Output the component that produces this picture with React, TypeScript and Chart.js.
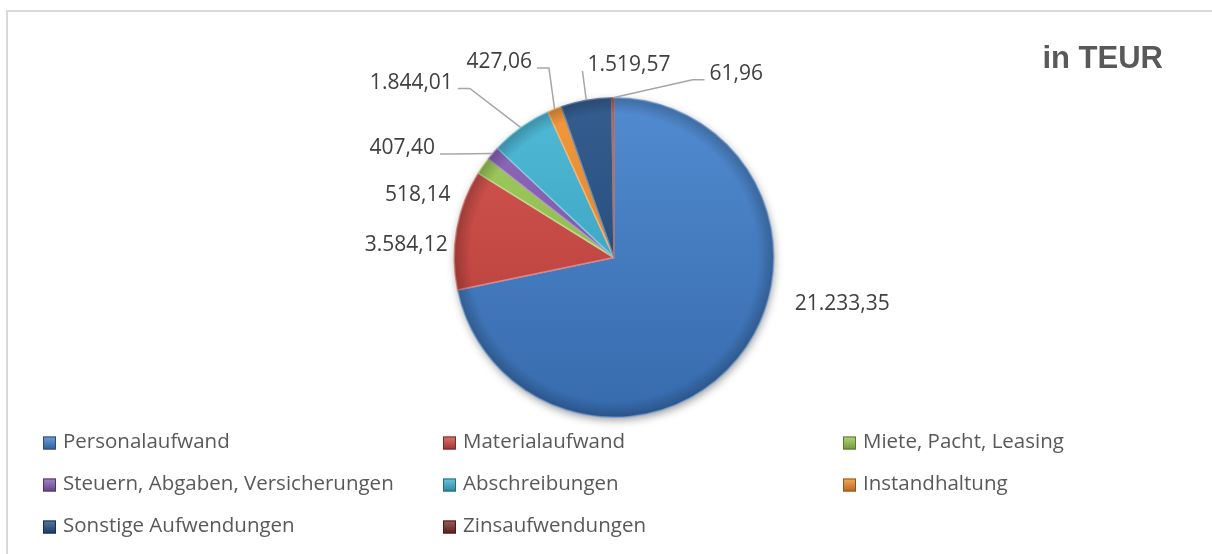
import React, { useEffect, useRef } from "react";
import { Chart, registerables } from "chart.js";

Chart.register(...registerables);

// ---------- data ----------
const categories = [
  "Personalaufwand",
  "Materialaufwand",
  "Miete, Pacht, Leasing",
  "Steuern, Abgaben, Versicherungen",
  "Abschreibungen",
  "Instandhaltung",
  "Sonstige Aufwendungen",
  "Zinsaufwendungen",
];
const values = [21233.35, 3584.12, 518.14, 407.4, 1844.01, 427.06, 1519.57, 61.96];
const chartTitle = "in TEUR";

// ---------- styles ----------
const sliceColors = [
  "#3F7ECB",
  "#D0443F",
  "#98C84E",
  "#8459B4",
  "#3BB2D2",
  "#F28C28",
  "#1F4C82",
  "#7A2826",
];
// label placement: angular shift (deg) from slice middle, distance in radii
const labelAngleShift = [-28.0, -6.2, -17.0, -13.0, -13.3, -8.4, 14.4, 33.8];
const labelDistance = [1.456, 1.303, 1.292, 1.496, 1.682, 1.427, 1.218, 1.389];
const labelLeader = [false, false, false, true, true, true, true, true];

const LABEL_FONT_SIZE = 21;
const LEGEND_FONT_SIZE = 20.5;
const legendStyle = { left: 43, top: 443, colWidth: 400, rowHeight: 42, cols: 3, box: 13 };

function formatDE(v: number): string {
  const [intPart, dec] = v.toFixed(2).split(".");
  const withDots = intPart.replace(/\B(?=(\d{3})+(?!\d))/g, ".");
  return withDots + "," + dec;
}

function hexToRgb(hex: string) {
  const n = parseInt(hex.slice(1), 16);
  return [(n >> 16) & 255, (n >> 8) & 255, n & 255];
}
function mix(hex: string, target: number, amt: number) {
  const [r, g, b] = hexToRgb(hex);
  const f = (c: number) => Math.round(c + (target - c) * amt);
  return `rgb(${f(r)},${f(g)},${f(b)})`;
}

const framePlugin = {
  id: "frame",
  beforeDraw(chart: any) {
    const ctx = chart.ctx;
    ctx.save();
    ctx.fillStyle = "#ffffff";
    ctx.fillRect(0, 0, chart.width, chart.height);
    ctx.strokeStyle = "#D9D9D9";
    ctx.lineWidth = 2;
    ctx.beginPath();
    ctx.moveTo(chart.width + 2, 11);
    ctx.lineTo(7, 11);
    ctx.lineTo(7, chart.height + 2);
    ctx.stroke();
    ctx.restore();
  },
};

const shadowPlugin = {
  id: "pieShadow",
  beforeDatasetsDraw(chart: any) {
    const arc = chart.getDatasetMeta(0).data[0];
    if (!arc) return;
    const { x, y, outerRadius } = arc.getProps(["x", "y", "outerRadius"], true);
    const ctx = chart.ctx;
    ctx.save();
    ctx.shadowColor = "rgba(0,0,0,0.45)";
    ctx.shadowBlur = 10;
    ctx.shadowOffsetX = 1;
    ctx.shadowOffsetY = 3;
    ctx.fillStyle = "#ffffff";
    ctx.beginPath();
    ctx.arc(x, y, outerRadius - 1, 0, Math.PI * 2);
    ctx.fill();
    ctx.restore();
  },
  afterDatasetsDraw(chart: any) {
    const arc = chart.getDatasetMeta(0).data[0];
    if (!arc) return;
    const { x, y, outerRadius } = arc.getProps(["x", "y", "outerRadius"], true);
    const ctx = chart.ctx;
    ctx.save();
    const g = ctx.createRadialGradient(x, y, outerRadius * 0.9, x, y, outerRadius);
    g.addColorStop(0, "rgba(0,0,0,0)");
    g.addColorStop(1, "rgba(0,0,0,0.22)");
    ctx.fillStyle = g;
    ctx.beginPath();
    ctx.arc(x, y, outerRadius, 0, Math.PI * 2);
    ctx.fill();
    ctx.restore();
  },
};

const labelPlugin = {
  id: "valueLabels",
  afterDatasetsDraw(chart: any) {
    const meta = chart.getDatasetMeta(0);
    const ctx = chart.ctx;
    ctx.save();
    ctx.font = `${LABEL_FONT_SIZE}px "Open Sans"`;
    ctx.textAlign = "center";
    ctx.textBaseline = "alphabetic";
    meta.data.forEach((arc: any, i: number) => {
      const { x, y, startAngle, endAngle, outerRadius } = arc.getProps(
        ["x", "y", "startAngle", "endAngle", "outerRadius"],
        true
      );
      const mid = (startAngle + endAngle) / 2;
      const ang = mid + (labelAngleShift[i] * Math.PI) / 180;
      const d = outerRadius * labelDistance[i];
      const cx = x + Math.cos(ang) * d;
      const cy = y + Math.sin(ang) * d;
      const baseY = cy + LABEL_FONT_SIZE * 0.357;
      const text = formatDE(values[i]);
      const w = ctx.measureText(text).width;
      if (labelLeader[i]) {
        const ax = x + Math.cos(mid) * outerRadius;
        const ay = y + Math.sin(mid) * outerRadius;
        let sx: number, ex: number;
        if (cx < ax) {
          sx = cx + w / 2 + 5;
          ex = sx + Math.max(0, Math.min(12, ax - sx));
        } else {
          sx = cx - w / 2 - 5;
          ex = sx - Math.max(0, Math.min(12, sx - ax));
        }
        ctx.strokeStyle = "#A6A6A6";
        ctx.lineWidth = 1.5;
        ctx.beginPath();
        ctx.moveTo(sx, baseY);
        ctx.lineTo(ex, baseY);
        ctx.lineTo(ax, ay);
        ctx.stroke();
      }
      ctx.fillStyle = "#404040";
      ctx.fillText(text, cx, baseY);
    });
    ctx.restore();
  },
};

const legendTitlePlugin = {
  id: "gridLegend",
  afterDraw(chart: any) {
    const ctx = chart.ctx;
    ctx.save();
    // title
    ctx.font = 'bold 31px "Liberation Sans"';
    ctx.fillStyle = "#595959";
    ctx.textAlign = "right";
    ctx.textBaseline = "alphabetic";
    ctx.fillText(chartTitle, 1163, 68);
    // legend
    const s = legendStyle;
    ctx.font = `${LEGEND_FONT_SIZE}px "Open Sans"`;
    ctx.textAlign = "left";
    ctx.textBaseline = "middle";
    categories.forEach((name, i) => {
      const col = i % s.cols;
      const row = Math.floor(i / s.cols);
      const bx = s.left + col * s.colWidth;
      const yc = s.top + row * s.rowHeight;
      const by = yc - s.box / 2;
      const g = ctx.createLinearGradient(0, by, 0, by + s.box);
      g.addColorStop(0, mix(sliceColors[i], 255, 0.25));
      g.addColorStop(1, mix(sliceColors[i], 0, 0.25));
      ctx.fillStyle = g;
      ctx.fillRect(bx, by, s.box, s.box);
      ctx.strokeStyle = mix(sliceColors[i], 0, 0.4);
      ctx.lineWidth = 1;
      ctx.strokeRect(bx + 0.5, by + 0.5, s.box - 1, s.box - 1);
      ctx.fillStyle = "#595959";
      ctx.fillText(name, bx + 20, yc - 1);
    });
    ctx.restore();
  },
};

export default function App() {
  const canvasRef = useRef<HTMLCanvasElement | null>(null);

  useEffect(() => {
    if (!canvasRef.current) return;
    const chart = new Chart(canvasRef.current, {
      type: "pie",
      data: {
        labels: categories,
        datasets: [
          {
            data: values,
            backgroundColor: (c: any) => {
              const area = c.chart.chartArea;
              if (!area) return sliceColors[c.dataIndex];
              const g = c.chart.ctx.createLinearGradient(0, area.top, 0, area.bottom);
              g.addColorStop(0, mix(sliceColors[c.dataIndex], 255, 0.1));
              g.addColorStop(1, mix(sliceColors[c.dataIndex], 0, 0.15));
              return g;
            },
            borderColor: sliceColors.map((col) => mix(col, 255, 0.35)),
            borderWidth: 1.5,
          },
        ],
      },
      options: {
        responsive: false,
        devicePixelRatio: 1,
        animation: false,
        rotation: 0,
        layout: { padding: { left: 453, right: 437, top: 97, bottom: 136 } },
        plugins: {
          legend: { display: false },
          tooltip: { enabled: false },
          title: { display: false },
        },
      },
      plugins: [framePlugin, shadowPlugin, labelPlugin, legendTitlePlugin],
    });
    return () => chart.destroy();
  }, []);

  return (
    <div style={{ position: "absolute", left: 0, top: 0, width: 1212, height: 554 }}>
      <canvas ref={canvasRef} width={1212} height={554} style={{ width: 1212, height: 554 }} />
    </div>
  );
}
